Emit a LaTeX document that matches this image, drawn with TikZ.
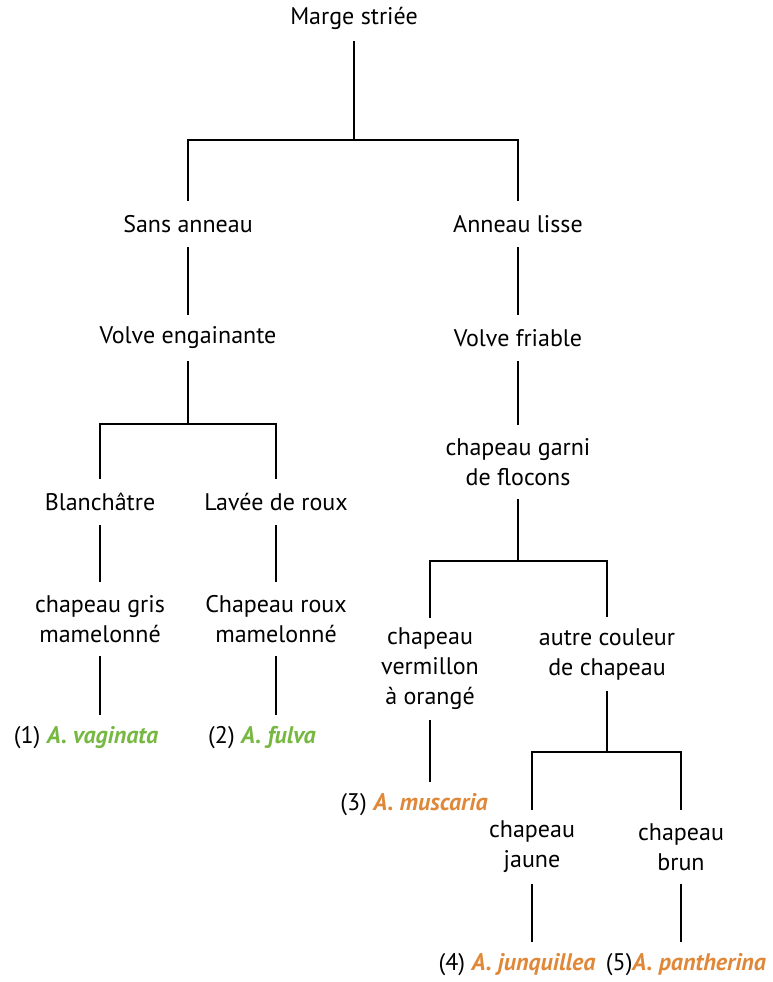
\documentclass[tikz,border=0pt]{standalone}
\usepackage{fontspec}
\setmainfont{PT Sans}
\definecolor{sgreen}{RGB}{118,184,66}
\definecolor{sorange}{RGB}{224,136,58}
\begin{document}
\begin{tikzpicture}[x=1pt,y=-1pt,
  every node/.style={font=\fontsize{24}{30}\selectfont, inner sep=0pt, align=center, text=black},
  one/.style={minimum height=46pt},
  two/.style={minimum height=74pt},
  three/.style={minimum height=102pt},
  link/.style={line width=1.6pt, draw=black}]
\useasboundingbox (0,0) rectangle (773,982);
% nodes
\node[one] (marge) at (354,18) {Marge striée};
\node[one] (sans) at (188,224) {Sans anneau};
\node[one] (anneau) at (518,224) {Anneau lisse};
\node[one] (volveE) at (188,338) {Volve engainante};
\node[one] (volveF) at (518,338) {Volve friable};
\node[two] (garni) at (518,462) {chapeau garni\\de flocons};
\node[one] (blanch) at (100,502) {Blanchâtre};
\node[one] (lavee) at (276,502) {Lavée de roux};
\node[two] (gris) at (100,619) {chapeau gris\\mamelonné};
\node[two] (roux) at (276,619) {Chapeau roux\\mamelonné};
\node[one] (sp1) at (86,738) {(1) \textcolor{sgreen}{\bfseries\itshape A. vaginata}};
\node[one] (sp2) at (262,738) {(2) \textcolor{sgreen}{\bfseries\itshape A. fulva}};
\node[three] (verm) at (430,669) {chapeau\\vermillon\\à orangé};
\node[two] (autre) at (607,654) {autre couleur\\de chapeau};
\node[one] (sp3) at (414,805) {(3) \textcolor{sorange}{\bfseries\itshape A. muscaria}};
\node[two] (jaune) at (532,847) {chapeau\\jaune};
\node[two] (brun) at (681,847) {chapeau\\brun};
\node[one] (sp4) at (517,965) {(4) \textcolor{sorange}{\bfseries\itshape A. junquillea}};
\node[one] (sp5) at (686,965) {(5)\textcolor{sorange}{\bfseries\itshape A. pantherina}};
% junctions
\coordinate (j0) at (354,140);
\coordinate (j1) at (188,424);
\coordinate (j2) at (518,561);
\coordinate (j3) at (607,752);
% connectors
\draw[link] (marge.south) -- (j0);
\draw[link] (sans.north) |- (j0) -| (anneau.north);
\draw[link] (sans.south) -- (volveE.north);
\draw[link] (anneau.south) -- (volveF.north);
\draw[link] (volveE.south) -- (j1);
\draw[link] (blanch.north) |- (j1) -| (lavee.north);
\draw[link] (blanch.south) -- (gris.north);
\draw[link] (lavee.south) -- (roux.north);
\draw[link] (gris.south) -- (gris.south |- sp1.north);
\draw[link] (roux.south) -- (roux.south |- sp2.north);
\draw[link] (volveF.south) -- (garni.north);
\draw[link] (garni.south) -- (j2);
\draw[link] (verm.north) |- (j2) -| (autre.north);
\draw[link] (verm.south) -- (verm.south |- sp3.north);
\draw[link] (autre.south) -- (j3);
\draw[link] (jaune.north) |- (j3) -| (brun.north);
\draw[link] (jaune.south) -- (jaune.south |- sp4.north);
\draw[link] (brun.south) -- (brun.south |- sp5.north);
\end{tikzpicture}
\end{document}
